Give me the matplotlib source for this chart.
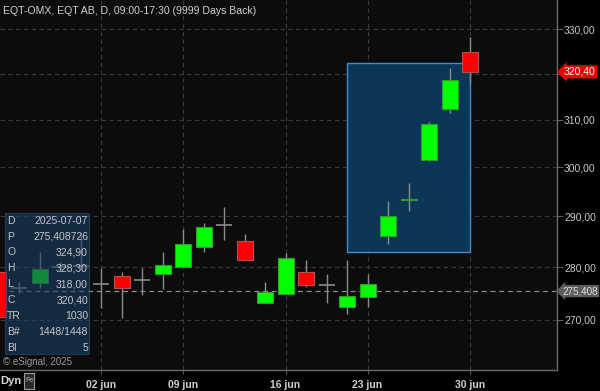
import matplotlib
matplotlib.use("Agg")
import matplotlib.pyplot as plt
from matplotlib.patches import Rectangle
from matplotlib.ticker import FixedLocator, NullLocator, NullFormatter

plt.rcParams['font.family'] = ['Liberation Sans', 'DejaVu Sans']

# ---------------- data ----------------
dates = ["23 May", "26 May", "27 May", "28 May", "30 May", "02 jun", "03 jun", "04 jun",
         "05 jun", "09 jun", "10 jun", "11 jun", "12 jun", "13 jun", "16 jun", "17 jun",
         "18 jun", "19 jun", "23 jun", "24 jun", "25 jun", "26 jun", "27 jun", "30 jun"]
opens  = [279.1, 276.0, 277.0, 280.0, 280.2, 276.7, 278.2, 277.5, 278.6, 280.1, 284.0, 288.3,
          285.0, 273.1, 274.8, 279.0, 276.6, 272.4, 274.3, 286.1, 293.2, 301.5, 312.2, 324.9]
highs  = [280.3, 277.2, 283.0, 281.0, 286.7, 279.85, 279.1, 279.85, 282.95, 287.4, 288.6, 291.8,
          286.4, 277.2, 282.8, 281.3, 278.7, 281.4, 278.7, 293.1, 296.8, 309.5, 321.2, 328.3]
lows   = [269.8, 275.0, 276.0, 279.2, 279.6, 272.2, 270.4, 274.7, 275.8, 280.1, 283.0, 285.3,
          281.3, 273.1, 274.8, 276.2, 273.1, 271.05, 272.4, 284.5, 291.1, 301.2, 311.4, 318.0]
closes = [270.6, 276.0, 279.7, 280.0, 280.2, 276.7, 275.9, 277.5, 280.5, 284.5, 287.9, 288.3,
          281.4, 275.2, 281.85, 276.5, 276.6, 274.4, 276.8, 290.1, 293.4, 309.1, 318.6, 320.4]

tick_labels = ["02 jun", "09 jun", "16 jun", "23 jun", "30 jun"]
tick_dates = ["02 jun", "09 jun", "16 jun", "23 jun", "30 jun"]
price_ticks = [270, 280, 290, 300, 310, 320, 330]
hidden_price_label = 320   # covered by the last-price tag in the original

last_price = 320.40
cursor_price = 275.408726

box_start, box_end = "19 jun", "30 jun"
box_low, box_high = 282.9, 322.4

info_keys = ["D", "P", "O", "H", "L", "C", "TR", "B#", "BI"]
info_vals = ["2025-07-07", "275,408726", "324,90", "328,30", "318,00", "320,40",
             "1030", "1448/1448", "5"]

title = "EQT-OMX, EQT AB, D, 09:00-17:30 (9999 Days Back)"

# ---------------- figure ----------------
W, H = 600, 391
fig = plt.figure(figsize=(6, 3.91), dpi=100, facecolor="#000000")
ax = fig.add_axes([0, 21 / H, 557 / W, 1 - 21 / H])
ax.set_facecolor("#0c0c0c")

x = list(range(len(dates)))
ax.set_yscale("log")

# grid
for p in price_ticks:
    ax.axhline(p, color="#3a3a3a", lw=0.8, ls=(0, (4, 3)), zorder=1)
for d in tick_dates:
    ax.axvline(dates.index(d), color="#3a3a3a", lw=0.8, ls=(0, (4, 3)), zorder=1)
ax.axhline(cursor_price, color="#8a8a8a", lw=0.9, ls=(0, (4, 3)), zorder=1.5)

# highlight rectangle
bx0, bx1 = dates.index(box_start), dates.index(box_end)
ax.add_patch(Rectangle((bx0, box_low), bx1 - bx0, box_high - box_low,
                       facecolor="#0b3656", edgecolor="#3f8ecf", lw=1.0, zorder=2))

# candles
bw = 0.78
for i in x:
    o, h, l, c = opens[i], highs[i], lows[i], closes[i]
    ax.vlines(i, l, h, color="#8c8c8c", lw=1.0, zorder=3)
    if o == c:
        ax.hlines(o, i - bw / 2, i + bw / 2, color="#8c8c8c", lw=1.2, zorder=4)
    elif c > o:
        ax.bar(i, c - o, bottom=o, width=bw, color="#00ff00", edgecolor="#2f9a2f",
               lw=0.8, zorder=4)
    else:
        ax.bar(i, o - c, bottom=c, width=bw, color="#ff0000", edgecolor="#b05050",
               lw=0.8, zorder=4)

ax.set_xlim(0.073, 27.24)
ax.set_ylim(260.8, 336.7)

# axes styling
for s in ["top", "left"]:
    ax.spines[s].set_visible(False)
for s in ["right", "bottom"]:
    ax.spines[s].set_color("#6a6a6a")
    ax.spines[s].set_linewidth(1.0)

ax.yaxis.tick_right()
ax.yaxis.set_major_locator(FixedLocator(price_ticks))
ax.yaxis.set_minor_locator(NullLocator())
ax.yaxis.set_minor_formatter(NullFormatter())
ax.set_yticklabels(["" if p == hidden_price_label else f"{p:.2f}".replace(".", ",")
                    for p in price_ticks])
ax.tick_params(axis="y", which="major", length=4, width=0.8, color="#5a5a5a",
               labelcolor="#c8c8c8", labelsize=7.5, pad=1)

ax.set_xticks([dates.index(d) for d in tick_dates])
ax.set_xticklabels(tick_labels, fontweight="bold")
ax.tick_params(axis="x", length=3, width=0.8, color="#5a5a5a",
               labelcolor="#d0d0d0", labelsize=7.5, pad=4)

# price tags on right axis
ax.annotate(f"{last_price:.2f}".replace(".", ","), xy=(1.0, last_price),
            xycoords=("axes fraction", "data"), xytext=(5, 0), textcoords="offset points",
            ha="left", va="center", fontsize=7.5, color="white", annotation_clip=False,
            bbox=dict(boxstyle="larrow,pad=0.15", fc="#ee0000", ec="none"), zorder=10)
ax.annotate("275,408", xy=(1.0, cursor_price),
            xycoords=("axes fraction", "data"), xytext=(4, 0), textcoords="offset points",
            ha="left", va="center", fontsize=7.1, color="#e0e0e0", annotation_clip=False,
            bbox=dict(boxstyle="larrow,pad=0.12", fc="#5c5c5c", ec="none"), zorder=10)

# title and credits
fig.text(3 / W, 1 - 11 / H, title, ha="left", va="center", fontsize=7.6, color="#d0d0d0")
fig.text(3 / W, 1 - 362 / H, "© eSignal, 2025", ha="left", va="center", fontsize=7,
         color="#9a9a9a")
fig.text(0 / W, 1 - 381 / H, "Dyn", ha="left", va="center", fontsize=8, fontweight="bold",
         color="#d8d8d8")
fig.patches.append(Rectangle((24 / W, 1 - 389 / H), 10 / W, 16 / H, transform=fig.transFigure,
                             facecolor="#2a2a2a", edgecolor="#9a9a9a", lw=0.8))
fig.text(29 / W, 1 - 381 / H, "Fe", ha="center", va="center", fontsize=5, color="#bbbbbb")

# info box
fig.patches.append(Rectangle((5 / W, 1 - 354 / H), 84 / W, 141.3 / H, transform=fig.transFigure,
                             facecolor="#1a3f63", edgecolor="#2c4e70", lw=0.8, alpha=0.6,
                             zorder=20))
for k, (key, val) in enumerate(zip(info_keys, info_vals)):
    yy = 220.7 + k * 15.9
    fig.text(7 / W, 1 - yy / H, key, ha="left", va="center", fontsize=7.5, color="#c8c8c8",
             zorder=21)
    fig.text(88 / W, 1 - yy / H, val, ha="right", va="center", fontsize=7.5, color="#c8c8c8",
             zorder=21)

fig.savefig("out.png", dpi=100, facecolor=fig.get_facecolor())
